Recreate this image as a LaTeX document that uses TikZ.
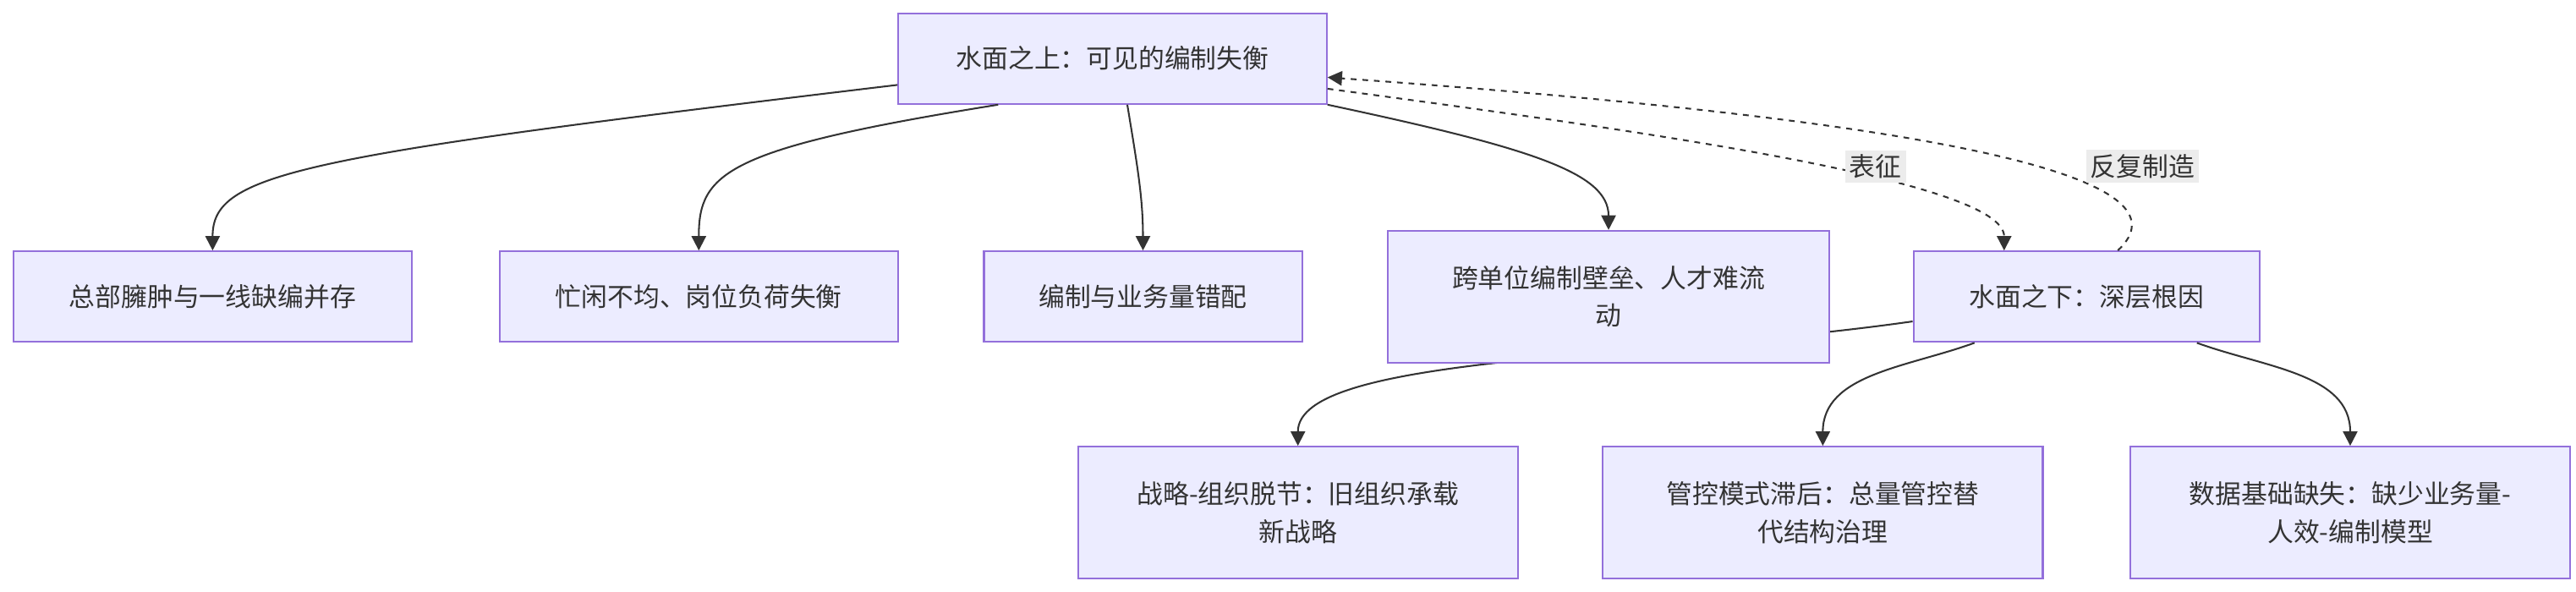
\documentclass[tikz,border=0pt]{standalone}
\usepackage{fontspec}
\setmainfont{Noto Sans CJK SC}
\usetikzlibrary{arrows.meta, calc}
\definecolor{boxfill}{HTML}{ECECFF}
\definecolor{boxline}{HTML}{9370DB}
\definecolor{linkcol}{HTML}{333333}
\tikzset{
  box/.style={draw=boxline, fill=boxfill, line width=0.6pt, align=center,
    minimum height=1.1cm, inner sep=2pt, font=\fontsize{9}{13}\selectfont, text=linkcol},
  tall/.style={box, minimum height=1.6cm},
  link/.style={draw=linkcol, line width=0.6pt, -{Triangle[length=5pt,width=5pt]}},
  dlink/.style={link, dashed, dash pattern=on 2pt off 2pt},
  lbl/.style={fill=gray!15, inner sep=1.5pt, font=\fontsize{9}{11}\selectfont, text=linkcol}
}
\begin{document}
\begin{tikzpicture}[x=0.02cm, y=0.02cm]
\useasboundingbox (0,0) rectangle (1563,-359);

% below the water (drawn first, its link runs behind n4)
\node[box, minimum width=4.2cm] (root) at (1266,-180) {水面之下：深层根因};
\node[tall, minimum width=5.34cm] (b1) at (787.5,-311) {战略-组织脱节：旧组织承载\\新战略};
\node[tall, minimum width=5.34cm] (b2) at (1106,-311) {管控模式滞后：总量管控替\\代结构治理};
\node[tall, minimum width=5.34cm] (b3) at (1426,-311) {数据基础缺失：缺少业务量-\\人效-编制模型};

\draw[link] (root.west |- 0,-195) .. controls (1000,-218) and (787.5,-215) .. (b1.north);
\draw[link] ([xshift=-1.36cm]root.south) to[out=200,in=90] (b2.north);
\draw[link] ([xshift=1.34cm]root.south) to[out=-20,in=90] (b3.north);

% above the water
\node[box, minimum width=5.2cm] (top) at (675,-35.5) {水面之上：可见的编制失衡};
\node[box, minimum width=4.84cm] (n1) at (129,-180) {总部臃肿与一线缺编并存};
\node[box, minimum width=4.84cm] (n2) at (424,-180) {忙闲不均、岗位负荷失衡};
\node[box, minimum width=3.86cm] (n3) at (693.5,-180) {编制与业务量错配};
\node[tall, minimum width=5.36cm] (n4) at (976,-180) {跨单位编制壁垒、人才难流\\动};

\draw[link] (top.187) .. controls (180,-95) and (129,-105) .. (n1.north);
\draw[link] (top.-158) .. controls (440,-90) and (424,-105) .. (n2.north);
\draw[link] ([xshift=0.18cm]top.south) .. controls (690,-100) and (693.5,-120) .. (n3.north);
\draw[link] (top.south east) .. controls (930,-90) and (976,-105) .. (n4.north);

\draw[dlink] (top.-8) .. controls (1000,-80) and (1216,-110) .. ([xshift=-1cm]root.north);
\draw[dlink] ([xshift=0.38cm]root.north) .. controls (1330,-110) and (1200,-75) .. (top.-5);
\node[lbl] (l1) at (1138,-101) {表征};
\node[lbl] (l2) at (1300,-101) {反复制造};
\end{tikzpicture}
\end{document}
